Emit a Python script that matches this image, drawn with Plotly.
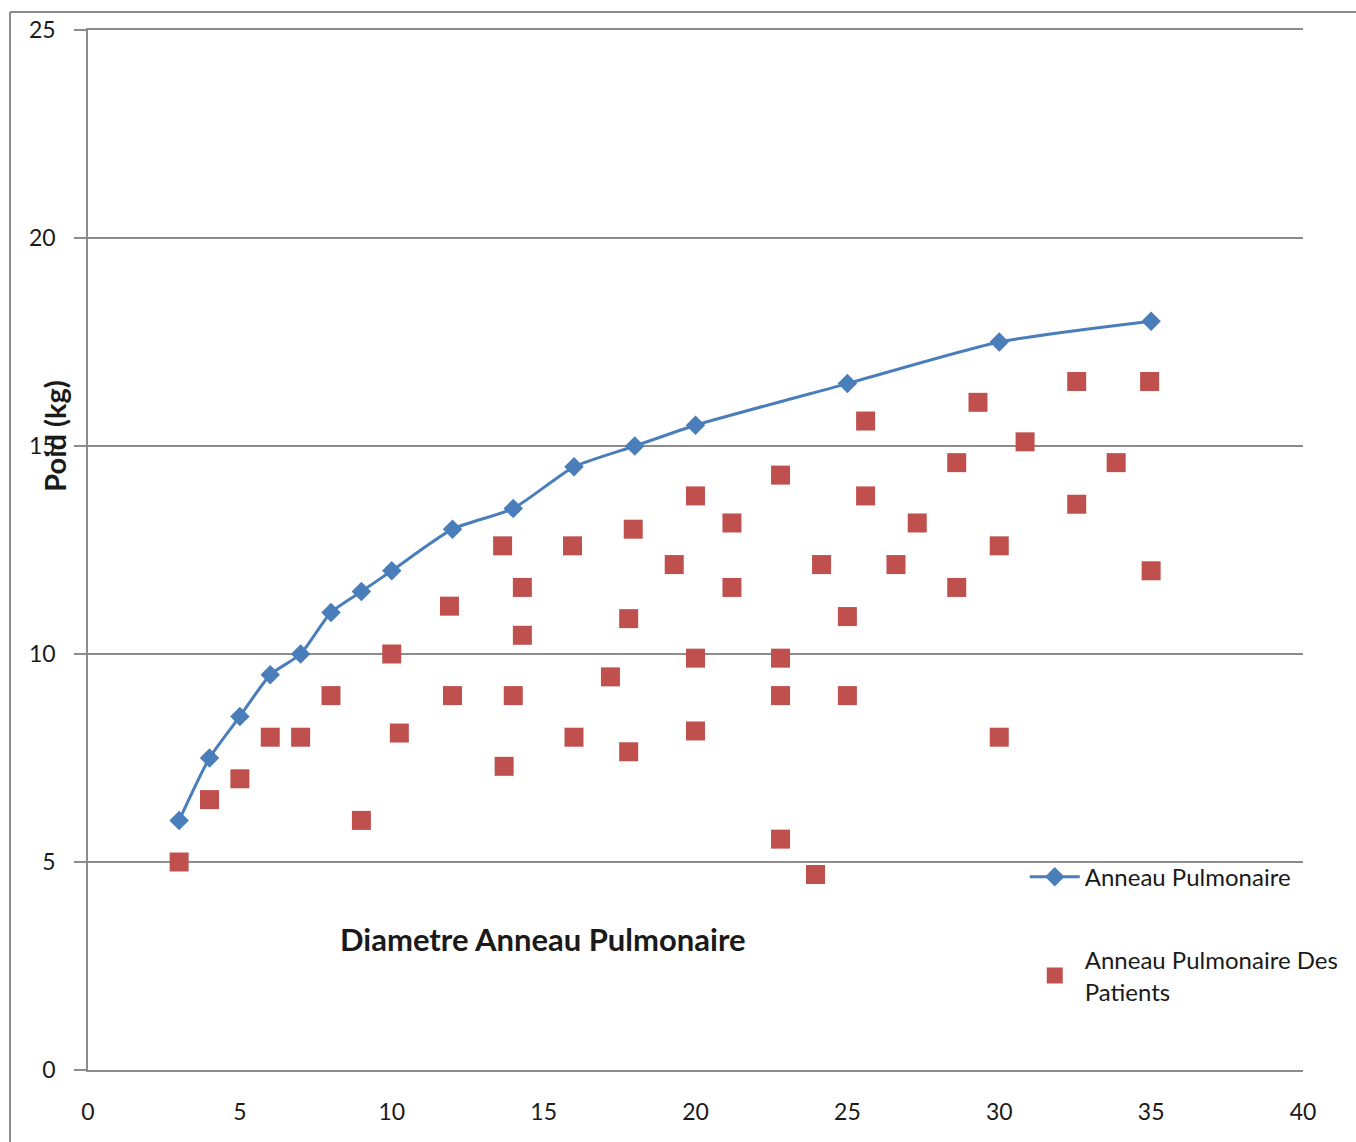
import plotly.graph_objects as go

# Reference curve: Anneau Pulmonaire
ref_x = [3, 4, 5, 6, 7, 8, 9, 10, 12, 14, 16, 18, 20, 25, 30, 35]
ref_y = [6, 7.5, 8.5, 9.5, 10, 11, 11.5, 12, 13, 13.5, 14.5, 15, 15.5, 16.5, 17.5, 18]

# Patients
pat_x = [3, 4, 5, 6, 7, 8, 9, 10, 10.25, 11.9, 12, 13.65, 13.7, 14, 14.3, 14.3,
         15.95, 16, 17.2, 17.8, 17.8, 17.95, 19.3, 20, 20, 20, 21.2, 21.2,
         22.8, 22.8, 22.8, 22.8, 23.95, 24.15, 25, 25, 25.6, 25.6, 26.6, 27.3,
         28.6, 28.6, 29.3, 30, 30, 30.85, 32.55, 32.55, 33.85, 34.95, 35]
pat_y = [5, 6.5, 7, 8, 8, 9, 6, 10, 8.1, 11.15, 9, 12.6, 7.3, 9, 11.6, 10.45,
         12.6, 8, 9.45, 10.85, 7.65, 13, 12.15, 13.8, 9.9, 8.15, 13.15, 11.6,
         14.3, 9.9, 9, 5.55, 4.7, 12.15, 10.9, 9, 15.6, 13.8, 12.15, 13.15,
         14.6, 11.6, 16.05, 12.6, 8, 15.1, 16.55, 13.6, 14.6, 16.55, 12]

x_ticks = [0, 5, 10, 15, 20, 25, 30, 35, 40]
y_ticks = [0, 5, 10, 15, 20, 25]

FONT = "Lato"
GRID = "#8c8c8c"

fig = go.Figure()
fig.add_trace(go.Scatter(
    x=ref_x, y=ref_y, mode="lines+markers", name="Anneau Pulmonaire",
    line=dict(color="#4a7ebb", width=3, shape="spline", smoothing=0.6),
    marker=dict(symbol="diamond", size=15, color="#4a7ebb"),
    legendgroup="a",
))
fig.add_trace(go.Scatter(
    x=pat_x, y=pat_y, mode="markers", name="Anneau Pulmonaire Des<br>Patients",
    marker=dict(symbol="square", size=19, color="#c0504d", line=dict(width=0)),
    legendgroup="b",
))

fig.update_layout(
    width=1356, height=1142,
    margin=dict(l=88, r=53, t=30, b=72),
    paper_bgcolor="white", plot_bgcolor="white",
    font=dict(family=FONT, size=22, color="#1a1a1a"),
    showlegend=True,
    legend=dict(
        x=0.771, y=0.207, xanchor="left", yanchor="top",
        bgcolor="rgba(0,0,0,0)", font=dict(family=FONT, size=24, color="#1a1a1a"),
        tracegroupgap=49, traceorder="grouped", itemwidth=50,
    ),
    xaxis=dict(
        range=[0, 40], tickvals=x_ticks, showgrid=False, zeroline=False,
        showline=True, mirror=True, linecolor=GRID, linewidth=2,
        ticks="", ticklabelstandoff=20,
        tickfont=dict(family=FONT, size=23, color="#1a1a1a"),
    ),
    yaxis=dict(
        range=[0, 25], tickvals=y_ticks, showgrid=True, gridcolor=GRID,
        gridwidth=1.5, zeroline=False, showline=True, linecolor=GRID,
        linewidth=1.5, ticks="outside", ticklen=12, tickcolor=GRID,
        tickwidth=1.5, ticklabelstandoff=14,
        tickfont=dict(family=FONT, size=23, color="#1a1a1a"),
    ),
    annotations=[
        dict(text="<b>Diametre Anneau Pulmonaire</b>", xref="paper", yref="paper",
             x=(543 - 88) / 1215, y=(1068 - 937) / 1038, showarrow=False,
             xanchor="center", yanchor="middle",
             font=dict(family=FONT, size=31, color="#1a1a1a")),
        dict(text="<b>Poid (kg)</b>", xref="paper", yref="paper",
             x=(55 - 88) / 1215, y=(1068 - 435) / 1038, showarrow=False,
             xanchor="center", yanchor="middle",
             textangle=-90, font=dict(family=FONT, size=29, color="#1a1a1a")),
    ],
    shapes=[
        dict(type="line", xref="paper", yref="paper", x0=(10 - 88) / 1215, x1=1.1,
             y0=(1068 - 12) / 1038, y1=(1068 - 12) / 1038,
             line=dict(color=GRID, width=2)),
        dict(type="line", xref="paper", yref="paper", x0=(10 - 88) / 1215, x1=(10 - 88) / 1215,
             y0=(1068 - 12) / 1038, y1=-0.1,
             line=dict(color=GRID, width=2)),
    ],
)

fig.write_html("out.html")
